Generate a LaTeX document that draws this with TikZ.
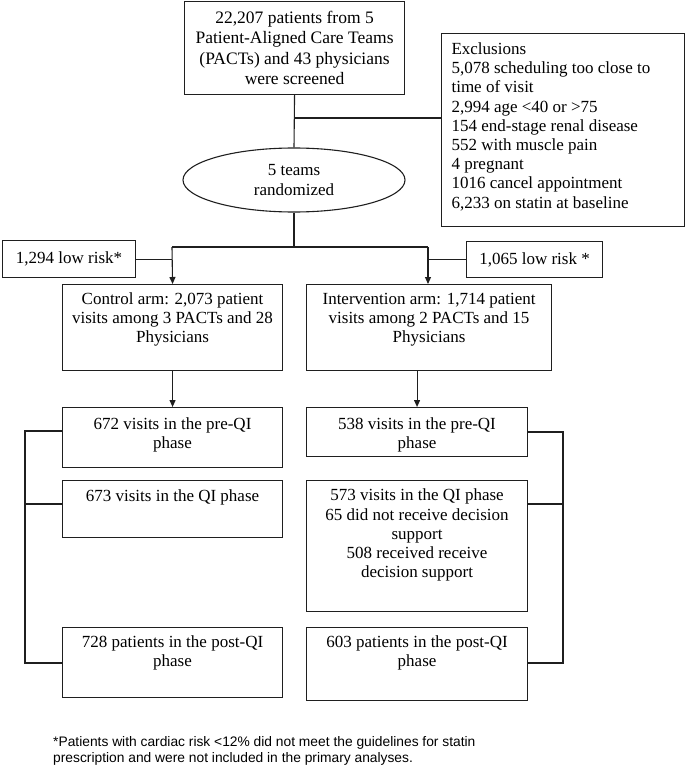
\documentclass[tikz,border=0pt]{standalone}
\usepackage{fontspec}
\setmainfont{Liberation Serif}
\newfontfamily\footfont{Liberation Sans}
\usetikzlibrary{shapes.geometric,arrows.meta}
\newcommand{\tbox}[4]{\parbox[c][#2][t]{#1}{\centering\vspace*{#3}\strut #4\par}}
\begin{document}
\begin{tikzpicture}[x=1pt,y=-1pt,
  bx/.style={draw=black!88, line width=1.1pt, inner sep=0pt, anchor=north west, font=\fontsize{17}{19.2}\selectfont},
  conn/.style={draw=black!88, line width=1.1pt},
  arr/.style={conn, -{Triangle[length=7pt,width=6pt]}}]
\useasboundingbox (0,0) rectangle (686,767);
\node[bx] (top) at (184,1) {\parbox[c][93pt][c]{220pt}{\centering\fontsize{17.5}{20.5}\selectfont 22,207 patients from 5\\Patient-Aligned Care Teams\\(PACTs) and 43 physicians\\were screened}};
\node[bx] (excl) at (441,33) {\parbox[c][193pt][t]{243pt}{\raggedright\leftskip=10pt\vspace*{7.6pt}\strut Exclusions\\5,078 scheduling too close to\\time of visit\\2,994 age <40 or >75\\154 end-stage renal disease\\552 with muscle pain\\4 pregnant\\1016 cancel appointment\\6,233 on statin at baseline\par}};
\node[ellipse, draw=black!88, line width=1.1pt, minimum width=222pt, minimum height=64pt, inner sep=0pt, align=center, font=\fontsize{17}{19.2}\selectfont] (ell) at (294,180) {5 teams\\randomized};
\node[bx] (lr1) at (2,240) {\parbox[c][37pt][c]{133pt}{\centering 1,294 low risk*}};
\node[bx] (lr2) at (466,241) {\parbox[c][36pt][c]{136pt}{\centering 1,065 low risk *}};
\node[bx] (ctrl) at (62,284) {\tbox{220pt}{86pt}{6.6pt}{Control arm: 2,073 patient\\visits among 3 PACTs and 28\\Physicians}};
\node[bx] (intv) at (306,284) {\tbox{245pt}{86pt}{6.6pt}{Intervention arm: 1,714 patient\\visits among 2 PACTs and 15\\Physicians}};
\node[bx] (preL) at (62,407) {\tbox{220pt}{60pt}{8.6pt}{672 visits in the pre-QI\\phase}};
\node[bx] (preR) at (306,407) {\tbox{221pt}{49pt}{8.6pt}{538 visits in the pre-QI\\phase}};
\node[bx] (qiL) at (62,480) {\tbox{220pt}{57pt}{7.6pt}{673 visits in the QI phase}};
\node[bx] (qiR) at (306,480) {\tbox{221pt}{131pt}{7pt}{573 visits in the QI phase\\65 did not receive decision\\support\\508 received receive\\decision support}};
\node[bx] (postL) at (62,627) {\tbox{220pt}{70pt}{6.6pt}{728 patients in the post-QI\\phase}};
\node[bx] (postR) at (306,627) {\tbox{221pt}{73pt}{6.6pt}{603 patients in the post-QI\\phase}};
\node[anchor=base west, inner sep=0pt, font=\footfont\fontsize{13.8}{16}\selectfont] (foot) at (53,746.5) {\parbox[t]{560pt}{\raggedright *Patients with cardiac risk <12\% did not meet the guidelines for statin\\prescription and were not included in the primary analyses.}};
% connectors
\coordinate (j1) at (294,118);
\coordinate (br) at (294,247);
\coordinate (brL) at (172,247);
\coordinate (brR) at (428,247);
\draw[conn] (top.south) -- (ell.north);
\draw[conn] (j1) -- (j1 -| excl.west);
\draw[conn] (ell.south) -- (br);
\draw[conn] (brL) -- (brR);
\draw[arr] (brL) -- (ctrl.north);
\draw[arr] (brR) -- (brR |- intv.north);
\draw[conn] (lr1.east) -- (lr1.east -| brL);
\draw[conn] (lr2.west) -- (lr2.west -| brR);
\draw[arr] (ctrl.south) -- (preL.north);
\draw[arr] (preR.north |- intv.south) -- (preR.north);
\coordinate (lb1) at (25,431);
\coordinate (lb2) at (25,504);
\coordinate (lb3) at (25,663);
\draw[conn] (preL.west |- lb1) -- (lb1) -- (lb3) -- (postL.west |- lb3);
\draw[conn] (lb2) -- (qiL.west |- lb2);
\coordinate (rb1) at (563,432);
\coordinate (rb2) at (563,504);
\coordinate (rb3) at (563,663);
\draw[conn] (preR.east |- rb1) -- (rb1) -- (rb3) -- (postR.east |- rb3);
\draw[conn] (rb2) -- (qiR.east |- rb2);
\end{tikzpicture}
\end{document}
